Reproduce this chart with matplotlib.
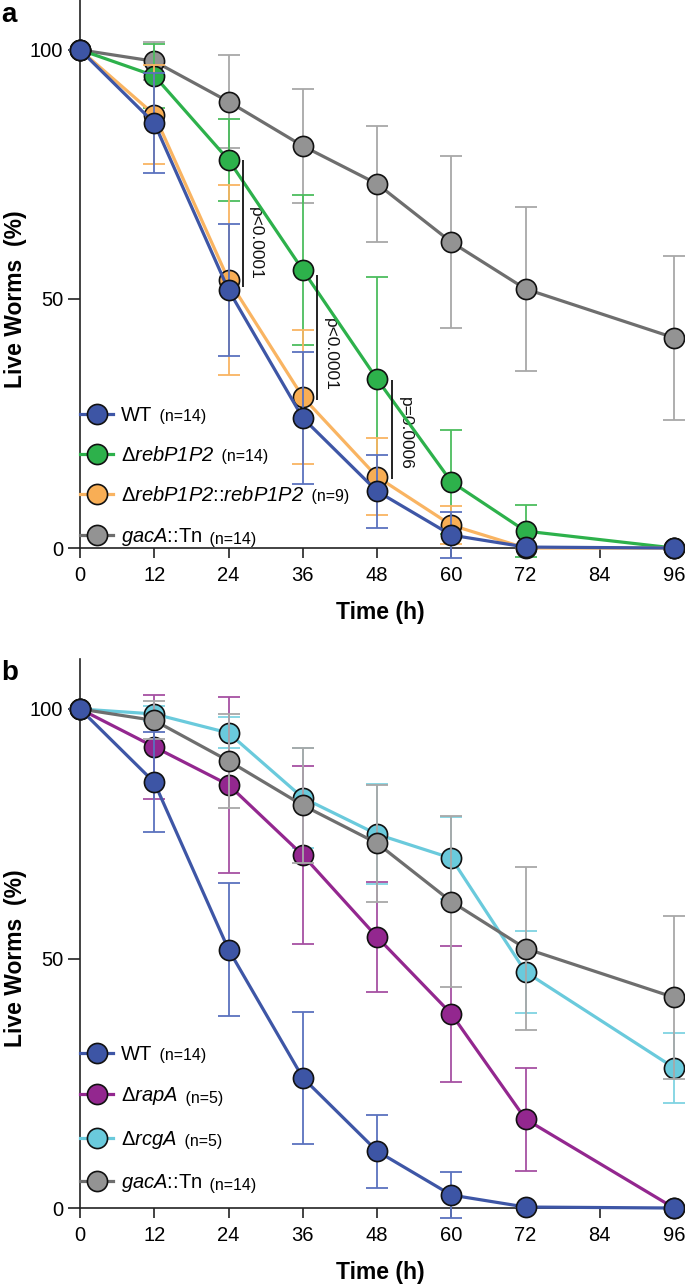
import matplotlib
matplotlib.use("Agg")
import matplotlib.pyplot as plt

plt.rcParams['font.family'] = ['Liberation Sans', 'DejaVu Sans']
plt.rcParams['mathtext.fontset'] = 'custom'
# italic gene names, digits included
plt.rcParams['mathtext.rm'] = 'Liberation Sans:italic'
plt.rcParams['mathtext.it'] = 'Liberation Sans:italic'

# time points (h)
times = [0, 12, 24, 36, 48, 60, 72, 96]

# panel a
wt = [100, 85.3, 51.8, 26.1, 11.4, 2.6, 0.2, 0]
wt_sd = [0, 10.0, 13.3, 13.2, 7.3, 4.6, 0, 0]
reb = [100, 94.8, 77.9, 55.8, 33.9, 13.3, 3.4, 0]
reb_sd = [0, 6.4, 8.3, 15.0, 20.5, 10.4, 5.2, 0]
comp = [100, 87.0, 53.8, 30.3, 14.3, 4.6, 0, 0]
comp_sd = [0, 9.9, 19.0, 13.4, 7.7, 3.8, 0, 0]
gac = [100, 97.7, 89.6, 80.7, 73.1, 61.4, 52.0, 42.2]
gac_sd = [0, 3.8, 9.4, 11.5, 11.7, 17.2, 16.4, 16.4]

# panel b
rap = [100, 92.4, 84.8, 70.7, 54.3, 38.9, 17.8, 0]
rap_sd = [0, 10.5, 17.6, 17.8, 11.1, 13.6, 10.3, 0]
rcg = [100, 99.0, 95.2, 82.2, 74.9, 70.1, 47.3, 28.1]
rcg_sd = [0, 1.5, 3.1, 10.0, 10.0, 8.2, 8.2, 7.0]

# p-value brackets in panel a
p_x = [26.3, 38.3, 50.4]
p_top = [77.9, 54.8, 33.7]
p_bottom = [52.4, 29.7, 13.9]
p_text_y = [61.2, 38.8, 23.1]
p_labels = ['p<0.0001', 'p<0.0001', 'p=0.0006']

BLUE = ('#3D55A5', '#3E56A6', '#5A72BE')
GREEN = ('#2DB14B', '#2DB14B', '#4CBD5E')
ORANGE = ('#F8AE55', '#F9B462', '#F9B462')
GRAY = ('#939393', '#6E6E6E', '#A8A8A8')
PURPLE = ('#93278F', '#93278F', '#A650A3')
CYAN = ('#6ACADC', '#6ACADC', '#7FD3E2')


def draw_series(ax, y, sd, colors, label, z):
    face, line, err = colors
    ax.errorbar(times, y, yerr=sd, fmt='none', ecolor=err, elinewidth=1.3,
                capsize=8, capthick=1.3, zorder=z, clip_on=False)
    h, = ax.plot(times, y, '-o', color=line, lw=2.3, ms=14.5, mfc=face,
                 mec='#111111', mew=1.2, zorder=z + 0.5, clip_on=False,
                 label=label)
    return h


def style_axes(ax):
    ax.set_xlim(0, 97.6)
    ax.set_ylim(0, 110)
    for s in ['top', 'right']:
        ax.spines[s].set_visible(False)
    for s in ['left', 'bottom']:
        ax.spines[s].set_linewidth(1.2)
        ax.spines[s].set_color('#222222')
    ax.set_xticks(range(0, 97, 12))
    ax.set_yticks([0, 50, 100])
    ax.tick_params(axis='y', length=8.6, width=1.2, pad=3.5, labelsize=14.5,
                   color='#222222')
    ax.tick_params(axis='x', length=7, width=1.2, pad=6, labelsize=14.5,
                   color='#222222')
    ax.set_ylabel('Live Worms  (%)', fontsize=16.5, fontweight='bold',
                  va='center')
    ax.yaxis.set_label_coords(-0.107, 50 / 110)
    ax.set_xlabel('Time (h)', fontsize=16.5, fontweight='bold')
    ax.xaxis.set_label_coords(0.497, -0.117)
    ax.xaxis.label.set_va('center')


def add_legend(ax, handles, labels, counts, y0):
    leg = ax.legend(handles, labels, loc='lower left',
                    bbox_to_anchor=(0.0, y0), frameon=False, borderpad=0,
                    borderaxespad=0, fontsize=14.5, handlelength=1.64,
                    handletextpad=0.4, labelspacing=1.05, numpoints=1)
    leg.set_zorder(10)
    for t, n in zip(leg.get_texts(), counts):
        ax.annotate(' ' + n, xy=(1, 0), xycoords=t, xytext=(2, 0.8),
                    textcoords='offset points', fontsize=11.5,
                    ha='left', va='bottom', zorder=11)


fig = plt.figure(figsize=(6.85, 12.85), dpi=100)
ax1 = fig.add_axes([0.1168, 0.5735, 0.8818, 0.4265])
ax2 = fig.add_axes([0.1168, 0.0599, 0.8818, 0.4272])

# panel a
h_gac = draw_series(ax1, gac, gac_sd, GRAY, 'gac', 2)
h_reb = draw_series(ax1, reb, reb_sd, GREEN, 'reb', 3)
h_comp = draw_series(ax1, comp, comp_sd, ORANGE, 'comp', 4)
h_wt = draw_series(ax1, wt, wt_sd, BLUE, 'wt', 5)
style_axes(ax1)
ax1.vlines(p_x, p_bottom, p_top, color='#111111', lw=1.3, zorder=6)
for x, y, s in zip(p_x, p_text_y, p_labels):
    ax1.text(x + 2.1, y, s, rotation=270, ha='center', va='center',
             fontsize=12.5, color='#111111')
add_legend(ax1, [h_wt, h_reb, h_comp, h_gac],
           ['WT', r'Δ$rebP1P2$', r'Δ$rebP1P2$::$rebP1P2$', r'$gacA$::Tn'],
           ['(n=14)', '(n=14)', '(n=9)', '(n=14)'], 0.0)

# panel b
h_rcg = draw_series(ax2, rcg, rcg_sd, CYAN, 'rcg', 2)
h_rap = draw_series(ax2, rap, rap_sd, PURPLE, 'rap', 3)
h_gac2 = draw_series(ax2, gac, gac_sd, GRAY, 'gac', 4)
h_wt2 = draw_series(ax2, wt, wt_sd, BLUE, 'wt', 5)
style_axes(ax2)
add_legend(ax2, [h_wt2, h_rap, h_rcg, h_gac2],
           ['WT', r'Δ$rapA$', r'Δ$rcgA$', r'$gacA$::Tn'],
           ['(n=14)', '(n=5)', '(n=5)', '(n=14)'], 0.026)

fig.text(0.002, 0.988, 'a', fontsize=20, fontweight='bold', va='center')
fig.text(0.002, 0.476, 'b', fontsize=20, fontweight='bold', va='center')

fig.savefig('out.png', dpi=100)
